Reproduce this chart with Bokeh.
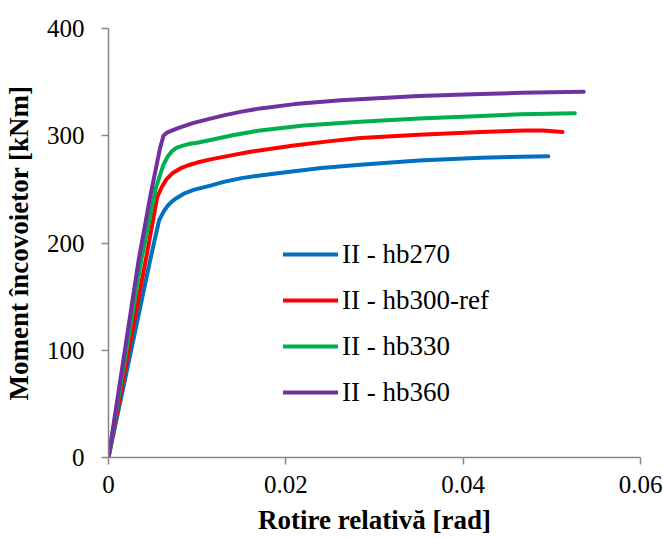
from bokeh.plotting import figure
from bokeh.embed import file_html
from bokeh.resources import INLINE
from bokeh.models import Range1d, FixedTicker, CustomJSTickFormatter, Legend, LegendItem

# Data
hb270_x = [0, 0.0047, 0.0057, 0.0062, 0.0067, 0.0072, 0.0077, 0.0085, 0.0096, 0.0115, 0.0130, 0.0150,
           0.0171, 0.0200, 0.0240, 0.0284, 0.0350, 0.0420, 0.0496]
hb270_y = [0, 184, 221, 229, 235, 239, 242, 246, 249.5, 253.5, 257, 260.5,
           263, 266, 270, 273, 277, 279.5, 281]

hb300_x = [0, 0.0042, 0.0055, 0.0060, 0.0065, 0.0072, 0.0081, 0.0090, 0.0100, 0.0115, 0.0134, 0.0160,
           0.0209, 0.0250, 0.0284, 0.0350, 0.0420, 0.0470, 0.0490, 0.0512]
hb300_y = [0, 184, 243, 252, 259, 265, 269.5, 272.5, 275, 278, 281, 285,
           291, 295, 298, 301, 303.5, 305, 305, 303.5]

hb330_x = [0, 0.0037, 0.0053, 0.0058, 0.0062, 0.0067, 0.0072, 0.0077, 0.0085, 0.0092, 0.0100, 0.0115,
           0.0140, 0.0171, 0.0220, 0.0284, 0.0350, 0.0420, 0.0465, 0.0526]
hb330_y = [0, 184, 250, 263, 273, 281, 286, 289, 291, 292.5, 293.5, 296,
           300.5, 305, 309.5, 313, 316, 318.5, 320, 321]

hb360_x = [0, 0.0034, 0.0047, 0.0058, 0.0062, 0.0066, 0.0072, 0.0080, 0.0096, 0.0115, 0.0130, 0.0150,
           0.0171, 0.0210, 0.0262, 0.0350, 0.0420, 0.0465, 0.0536]
hb360_y = [0, 184, 243, 288, 300, 303, 305, 307.5, 312, 316, 319, 322.5,
           325.5, 329.5, 333, 337, 339, 340, 341]

series_names = ["II - hb270", "II - hb300-ref", "II - hb330", "II - hb360"]
series_colors = ["#0070C0", "#FF0000", "#00B050", "#7030A0"]
x_ticks = [0, 0.02, 0.04, 0.06]
y_ticks = [0, 100, 200, 300, 400]

FONT = "'Liberation Serif', serif"
AXIS_GRAY = "#868686"

p = figure(width=663, height=539, output_backend="svg", toolbar_location=None,
           x_range=Range1d(0, 0.06), y_range=Range1d(0, 400),
           min_border_left=108, min_border_right=23, min_border_top=28, min_border_bottom=82)
p.outline_line_color = None
p.xgrid.grid_line_color = None
p.ygrid.grid_line_color = None

items = []
for xs, ys, name, col in zip([hb270_x, hb300_x, hb330_x, hb360_x],
                             [hb270_y, hb300_y, hb330_y, hb360_y],
                             series_names, series_colors):
    r = p.line(xs, ys, line_color=col, line_width=4, line_join="round", line_cap="round")
    items.append(LegendItem(label=name, renderers=[r]))

legend = Legend(items=items, location=(175, 42), border_line_color=None,
                background_fill_alpha=0, padding=0, margin=0, spacing=0,
                glyph_width=55, glyph_height=46, label_height=46,
                label_text_font=FONT, label_text_font_size="27px", label_text_color="black",
                label_standoff=4)
p.add_layout(legend, "center")

p.xaxis.ticker = FixedTicker(ticks=x_ticks)
p.yaxis.ticker = FixedTicker(ticks=y_ticks)
p.xaxis.formatter = CustomJSTickFormatter(code="return tick == 0 ? '0' : tick.toFixed(2);")
p.yaxis.formatter = CustomJSTickFormatter(code="return tick.toFixed(0);")

for ax in [p.xaxis[0], p.yaxis[0]]:
    ax.axis_line_color = AXIS_GRAY
    ax.axis_line_width = 1.5
    ax.major_tick_line_color = AXIS_GRAY
    ax.major_tick_line_width = 1.5
    ax.major_tick_out = 7
    ax.major_tick_in = 0
    ax.minor_tick_line_color = None
    ax.major_label_text_font = FONT
    ax.major_label_text_font_size = "25px"
    ax.major_label_text_color = "black"
    ax.axis_label_text_font = FONT
    ax.axis_label_text_font_size = "27px"
    ax.axis_label_text_font_style = "bold"
    ax.axis_label_text_color = "black"

p.xaxis.axis_label = "Rotire relativă [rad]"
p.yaxis.axis_label = "Moment încovoietor [kNm]"
p.xaxis.major_label_standoff = 11
p.yaxis.major_label_standoff = 17
p.xaxis.axis_label_standoff = 9
p.yaxis.axis_label_standoff = 10

open("out.html", "w").write(file_html(p, INLINE))
